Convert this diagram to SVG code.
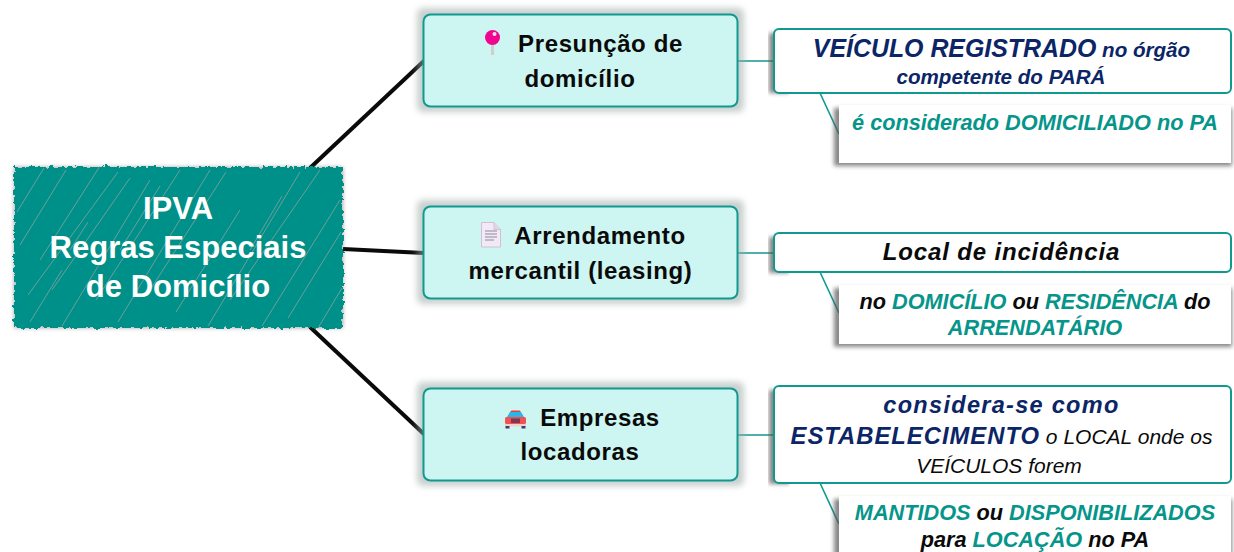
<svg xmlns="http://www.w3.org/2000/svg" width="1234" height="552" viewBox="0 0 1234 552">
<style>
text{font-family:"Liberation Sans",Arial,sans-serif;text-anchor:middle;font-weight:bold}
.root{font-size:31px;fill:#fff}
.mid{font-size:24px;fill:#0a0a0a;letter-spacing:.62px}
.midbox{fill:#cdf5f1;stroke:#10998f;stroke-width:2}
.topic{fill:#fff;stroke:#10998f;stroke-width:2}
.note{fill:#fff}
.i{font-style:italic}
.n{fill:#0b2566}
.t{fill:#05958a}
.k{fill:#0a0a0a}
.r{font-weight:normal}
.c-thick{stroke:#0a0a0a;stroke-width:4;fill:none}
.c-thin{stroke:#10998f;stroke-width:1.6;fill:none}
.hatch{stroke:#b5a9a4;stroke-width:1;fill:none;opacity:.6}
</style>
<defs>
<filter id="rough" x="-5%" y="-5%" width="110%" height="110%">
<feTurbulence type="fractalNoise" baseFrequency="0.22" numOctaves="2" seed="4"/>
<feDisplacementMap in="SourceGraphic" scale="7" xChannelSelector="R" yChannelSelector="G"/>
</filter>
<filter id="glow" x="-5%" y="-10%" width="110%" height="120%"><feGaussianBlur stdDeviation="3"/></filter>
<filter id="blur2" x="-5%" y="-10%" width="110%" height="120%"><feGaussianBlur stdDeviation="2.2"/></filter>
</defs>

<g id="connectors">
<path class="c-thick" d="M310 168 L425 60"/>
<path class="c-thick" d="M343 249 L424 253"/>
<path class="c-thick" d="M310 327 L425 435"/>
<path class="c-thin" d="M738 61 H774"/>
<path class="c-thin" d="M738 253 H774"/>
<path class="c-thin" d="M738 435 H774"/>
<path class="c-thin" d="M820 93 L839 134"/>
<path class="c-thin" d="M820 272 L839 313"/>
<path class="c-thin" d="M820 483 L839 524"/>
</g>

<g id="root">
<rect x="14" y="167" width="329" height="161" fill="#555" opacity=".5" filter="url(#blur2)"/>
<rect x="14" y="167" width="329" height="161" fill="#00908a" filter="url(#rough)"/>
<path class="hatch" d="M17 212 L44 168 M20 245 L66 170 M40 260 L100 166 M28 295 L118 172 M52 290 L130 178 M62 326 L150 180 M96 300 L180 170 M118 322 L210 170 M150 290 L226 172 M176 312 L240 210 M208 326 L300 172 M230 300 L320 170 M262 326 L340 200 M288 318 L341 232 M318 328 L342 288 M120 250 L160 186 M70 250 L88 222 M30 322 L62 270 M250 250 L282 196"/>
<text class="root" x="178" y="219">IPVA</text>
<text class="root" x="178" y="258">Regras Especiais</text>
<text class="root" x="178" y="297">de Domicílio</text>
</g>

<g id="node-presuncao">
<rect x="417" y="8" width="327" height="104" rx="6" fill="#9aa9a6" opacity=".55" filter="url(#glow)"/>
<rect class="midbox" x="423.500" y="14.500" width="314" height="92" rx="7"/>
<path d="M492.500 42 V55" stroke="#cfcfcf" stroke-width="3"/>
<circle cx="492.500" cy="37.500" r="7.500" fill="#f0068e"/>
<circle cx="494.500" cy="34" r="2" fill="#ffd7ee"/>
<text class="mid" x="600.500" y="52">Presunção de</text>
<text class="mid" x="580" y="87">domicílio</text>
</g>

<g id="node-arrendamento">
<rect x="417" y="200" width="327" height="104" rx="6" fill="#9aa9a6" opacity=".55" filter="url(#glow)"/>
<rect class="midbox" x="423.500" y="206.500" width="314" height="92" rx="7"/>
<path d="M481.500 222.500 H494 L500.500 229.500 V247 H481.500 Z" fill="#f3e9f6" stroke="#cfc0d6"/>
<path d="M494 222.500 V229.500 H500.500" fill="#e3d6e8" stroke="#cfc0d6"/>
<path d="M485 231 H497 M485 234 H497 M485 237 H497 M485 240 H494" stroke="#8b8a9c" stroke-width="1"/>
<text class="mid" x="600" y="244">Arrendamento</text>
<text class="mid" x="580.500" y="279">mercantil (leasing)</text>
</g>

<g id="node-locadoras">
<rect x="417" y="382" width="327" height="104" rx="6" fill="#9aa9a6" opacity=".55" filter="url(#glow)"/>
<rect class="midbox" x="423.500" y="388.500" width="314" height="92" rx="7"/>
<path d="M507 417 L510 412 H521 L524 417 Z" fill="#29b6e8"/>
<path d="M510 412 H521 L519.500 410.500 H511.500 Z" fill="#f03a3a"/>
<rect x="505" y="417" width="21" height="7" rx="1.500" fill="#f0524f"/>
<rect x="505" y="424" width="21" height="2.500" fill="#f4d0cc"/>
<rect x="511" y="418.500" width="9" height="4.500" fill="#7c3a52"/>
<rect x="505.500" y="426" width="4" height="2.500" fill="#4a3a6a"/>
<rect x="521.500" y="426" width="4" height="2.500" fill="#4a3a6a"/>
<text class="mid" x="600" y="426">Empresas</text>
<text class="mid" x="580" y="460">locadoras</text>
</g>

<g id="topic-veiculo">
<rect x="769" y="33" width="20" height="60" fill="#555" opacity=".7" filter="url(#blur2)"/>
<rect class="topic" x="774" y="29" width="457" height="64" rx="5"/>
<text class="i n" x="1001.500" y="57"><tspan font-size="24.900px">VEÍCULO REGISTRADO</tspan><tspan font-size="20.600px"> no órgão</tspan></text>
<text class="i n" x="1001" y="84" font-size="20.600px">competente do PARÁ</text>
</g>

<g id="note-domiciliado">
<rect x="834" y="108" width="398" height="58" fill="#555" opacity=".7" filter="url(#blur2)"/>
<rect class="note" x="839" y="105" width="392" height="58"/>
<text class="i t" x="1035" y="130" font-size="21.700px">é considerado DOMICILIADO no PA</text>
</g>

<g id="topic-local">
<rect x="769" y="237" width="20" height="36" fill="#555" opacity=".7" filter="url(#blur2)"/>
<rect class="topic" x="774" y="233" width="457" height="39" rx="5"/>
<text class="i k" x="1001.500" y="260" font-size="24px" letter-spacing=".85px">Local de incidência</text>
</g>

<g id="note-arrendatario">
<rect x="834" y="288" width="398" height="59" fill="#555" opacity=".7" filter="url(#blur2)"/>
<rect class="note" x="839" y="285" width="392" height="59"/>
<text class="i k" x="1035" y="309" font-size="21.700px">no <tspan class="t">DOMICÍLIO</tspan> ou <tspan class="t">RESIDÊNCIA</tspan> do</text>
<text class="i t" x="1035" y="335" font-size="21.700px">ARRENDATÁRIO</text>
</g>

<g id="topic-estabelecimento">
<rect x="769" y="390" width="20" height="94" fill="#555" opacity=".7" filter="url(#blur2)"/>
<rect class="topic" x="774" y="386" width="457" height="97" rx="5"/>
<text class="i n" x="1001.500" y="413" font-size="23.500px" letter-spacing="1.300px">considera-se como</text>
<text class="i" x="1001.500" y="444"><tspan class="n" font-size="23.800px" letter-spacing="1px">ESTABELECIMENTO</tspan><tspan class="k r" font-size="21px"> o LOCAL onde os</tspan></text>
<text class="i k r" x="999" y="473" font-size="21px">VEÍCULOS forem</text>
</g>

<g id="note-mantidos">
<rect x="834" y="499" width="398" height="60" fill="#555" opacity=".7" filter="url(#blur2)"/>
<rect class="note" x="839" y="496" width="392" height="56"/>
<text class="i t" x="1035" y="520" font-size="21.700px">MANTIDOS <tspan class="k">ou</tspan> DISPONIBILIZADOS</text>
<text class="i k" x="1035" y="547" font-size="21.700px">para <tspan class="t">LOCAÇÃO</tspan> no PA</text>
</g>
</svg>
